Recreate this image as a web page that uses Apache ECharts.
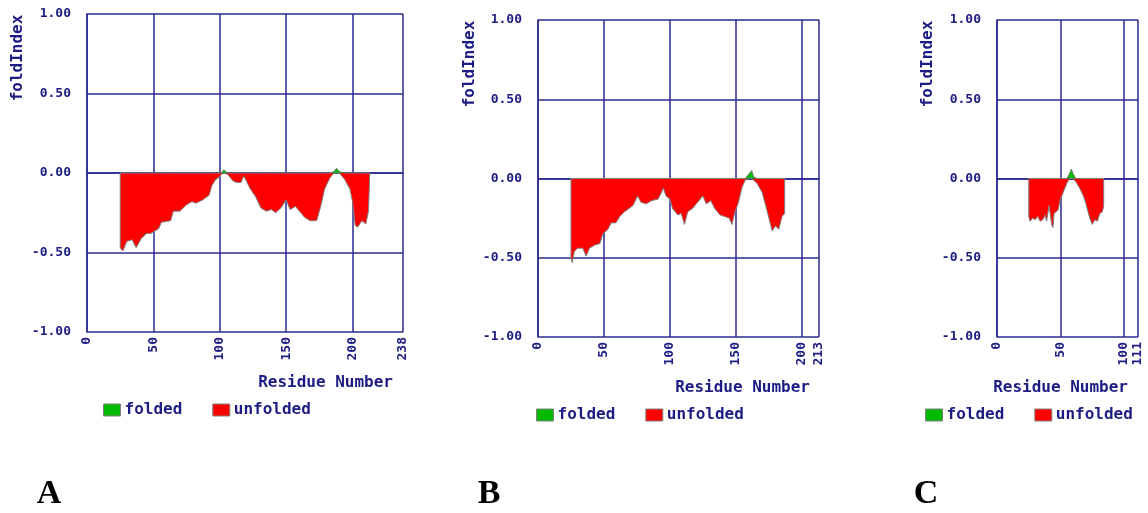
<!DOCTYPE html>
<html>
<head>
<meta charset="utf-8">
<script src="https://cdn.jsdelivr.net/npm/echarts@6/dist/echarts.min.js"></script>
<style>
  html, body { margin: 0; padding: 0; background: #fff; }
  #main { width: 1148px; height: 513px; }
</style>
</head>
<body>
<div id="main"></div>
<script>
// residue number / foldIndex values
var residuesA = [25,27,30,34,37,41,45,48,50,54,56,63,65,70,75,79,82,87,92,94,97,99,101,103,106,110,113,116,118,120,123,127,131,135,139,142,146,150,153,157,160,164,168,173,176,179,183,186,188,190,194,198,200,202,204,207,210,212,213];
var foldA = [-0.47,-0.49,-0.43,-0.42,-0.47,-0.41,-0.38,-0.38,-0.37,-0.35,-0.31,-0.30,-0.24,-0.24,-0.20,-0.18,-0.19,-0.17,-0.14,-0.08,-0.04,-0.03,-0.01,0.02,-0.01,-0.05,-0.06,-0.06,-0.02,-0.05,-0.10,-0.15,-0.22,-0.24,-0.23,-0.25,-0.22,-0.17,-0.23,-0.21,-0.24,-0.28,-0.30,-0.30,-0.21,-0.10,-0.03,0.01,0.03,0.01,-0.04,-0.10,-0.18,-0.33,-0.34,-0.30,-0.32,-0.24,-0.24];

var residuesB = [25,26,27.5,30,34,36.5,39,43,47,49,53,55.5,59,62,65.5,69,72,75.5,78,82,86,91,93.5,95,97,100,102,106,108.5,111,113.5,117,121,125,127.5,131,134,138,141.5,145,147,149,152,154.5,157,160,162,163.5,166,170,173.5,177.5,180,182.5,185,187];
var foldB = [-0.50,-0.53,-0.46,-0.44,-0.44,-0.49,-0.44,-0.42,-0.41,-0.35,-0.32,-0.28,-0.28,-0.24,-0.21,-0.19,-0.17,-0.11,-0.15,-0.16,-0.14,-0.13,-0.09,-0.06,-0.11,-0.13,-0.19,-0.23,-0.22,-0.29,-0.21,-0.19,-0.15,-0.11,-0.16,-0.14,-0.19,-0.23,-0.24,-0.25,-0.29,-0.22,-0.15,-0.06,-0.01,0.03,0.05,0.01,-0.03,-0.09,-0.20,-0.33,-0.30,-0.32,-0.24,-0.22];

var residuesC = [25,26,28,30,32,34,36,38,39,41,43,44,45,48,50,52,55,57,58.5,60,62,65,68,70,73,75,77,79,81,83,84];
var foldC = [-0.24,-0.27,-0.25,-0.26,-0.24,-0.27,-0.26,-0.23,-0.27,-0.17,-0.29,-0.31,-0.22,-0.20,-0.13,-0.09,-0.03,0.03,0.06,0.03,-0.02,-0.06,-0.11,-0.16,-0.25,-0.29,-0.26,-0.27,-0.22,-0.21,-0.17];

var seqLength = [238, 213, 111];   // x axis max of each panel
var panelLetters = ['A', 'B', 'C'];

var navy = '#1c1c84';
var lineNavy = '#2a2a90';
var mono = '"DejaVu Sans Mono", monospace';

// panel boxes (pixels)
var boxes = [
  { left: 87, top: 14, width: 316, height: 318 },
  { left: 538, top: 20, width: 281, height: 317 },
  { left: 997, top: 20, width: 141, height: 317 }
];

// outline polygon for one sign: closed to zero at both ends
function part(res, vals, sign) {
  var pts = [[res[0], 0]];
  res.forEach(function (r, i) {
    pts.push([r, sign < 0 ? Math.min(vals[i], 0) : Math.max(vals[i], 0)]);
  });
  pts.push([res[res.length - 1], 0]);
  return pts;
}

var panels = [[residuesA, foldA], [residuesB, foldB], [residuesC, foldC]];

var grids = [], xAxes = [], yAxes = [], series = [], legends = [], graphics = [];

boxes.forEach(function (b, i) {
  grids.push({ left: b.left, top: b.top, width: b.width, height: b.height, containLabel: false });
  xAxes.push({
    type: 'value', gridIndex: i, min: 0, max: seqLength[i], interval: 50,
    axisLine: { show: true, lineStyle: { color: lineNavy, width: 1.5 } },
    axisTick: { show: false },
    splitLine: { show: true, lineStyle: { color: lineNavy, width: 1.5 } },
    axisLabel: {
      rotate: 90, margin: 5, color: navy, fontFamily: mono, fontWeight: 'bold', fontSize: 13,
      showMaxLabel: true, showMinLabel: true, hideOverlap: false
    }
  });
  yAxes.push({
    type: 'value', gridIndex: i, min: -1, max: 1, interval: 0.5,
    axisLine: { show: true, lineStyle: { color: lineNavy, width: 1.5 } },
    axisTick: { show: false },
    splitLine: { show: true, lineStyle: { color: lineNavy, width: 1.5 } },
    axisLabel: {
      margin: 16, color: navy, fontFamily: mono, fontWeight: 'bold', fontSize: 13,
      formatter: function (v) { return v.toFixed(2); }
    }
  });
  var res = panels[i][0], vals = panels[i][1];
  series.push({
    name: 'unfolded', type: 'line', xAxisIndex: i, yAxisIndex: i,
    data: part(res, vals, -1), symbol: 'none', silent: true,
    lineStyle: { color: '#808080', width: 1 },
    itemStyle: { color: '#ff0000' },
    areaStyle: { color: '#ff0000', opacity: 1 }
  });
  series.push({
    name: 'folded', type: 'line', xAxisIndex: i, yAxisIndex: i,
    data: part(res, vals, 1), symbol: 'none', silent: true,
    lineStyle: { color: '#808080', width: 1 },
    itemStyle: { color: '#00bb00' },
    areaStyle: { color: '#00bb00', opacity: 1 }
  });
});

legends = [
  { left: 103, top: 402 },
  { left: 536, top: 407 },
  { left: 925, top: 407 }
].map(function (p) {
  return {
    left: p.left, top: p.top, orient: 'horizontal', padding: 0,
    data: ['folded', 'unfolded'], icon: 'rect', itemWidth: 17, itemHeight: 12, itemGap: 30,
    itemStyle: { borderColor: '#808080', borderWidth: 1 },
    textStyle: { color: navy, fontFamily: mono, fontWeight: 'bold', fontSize: 16, padding: [0, 0, 0, -1] },
    selectedMode: false
  };
});

// axis titles and panel letters
var yNamePos = [[18, 58], [470, 64], [928, 64]];
var xNamePos = [[393, 383], [810, 388], [1128, 388]];
var letterPos = [[49, 494], [489, 494], [926, 494]];
for (var i = 0; i < 3; i++) {
  graphics.push({
    type: 'text', x: yNamePos[i][0], y: yNamePos[i][1], rotation: Math.PI / 2,
    style: { text: 'foldIndex', fill: navy, font: 'bold 16px ' + mono, align: 'center', verticalAlign: 'middle' }
  });
  graphics.push({
    type: 'text', x: xNamePos[i][0], y: xNamePos[i][1],
    style: { text: 'Residue Number', fill: navy, font: 'bold 16px ' + mono, align: 'right', verticalAlign: 'middle' }
  });
  graphics.push({
    type: 'text', x: letterPos[i][0], y: letterPos[i][1],
    style: { text: panelLetters[i], fill: '#000', font: 'bold 34px "Liberation Serif", serif', align: 'center', verticalAlign: 'middle' }
  });
}

var myChart = echarts.init(document.getElementById('main'), null, { renderer: 'canvas' });
myChart.setOption({
  animation: false,
  backgroundColor: '#ffffff',
  grid: grids,
  xAxis: xAxes,
  yAxis: yAxes,
  legend: legends,
  series: series,
  graphic: graphics
});
</script>
</body>
</html>
